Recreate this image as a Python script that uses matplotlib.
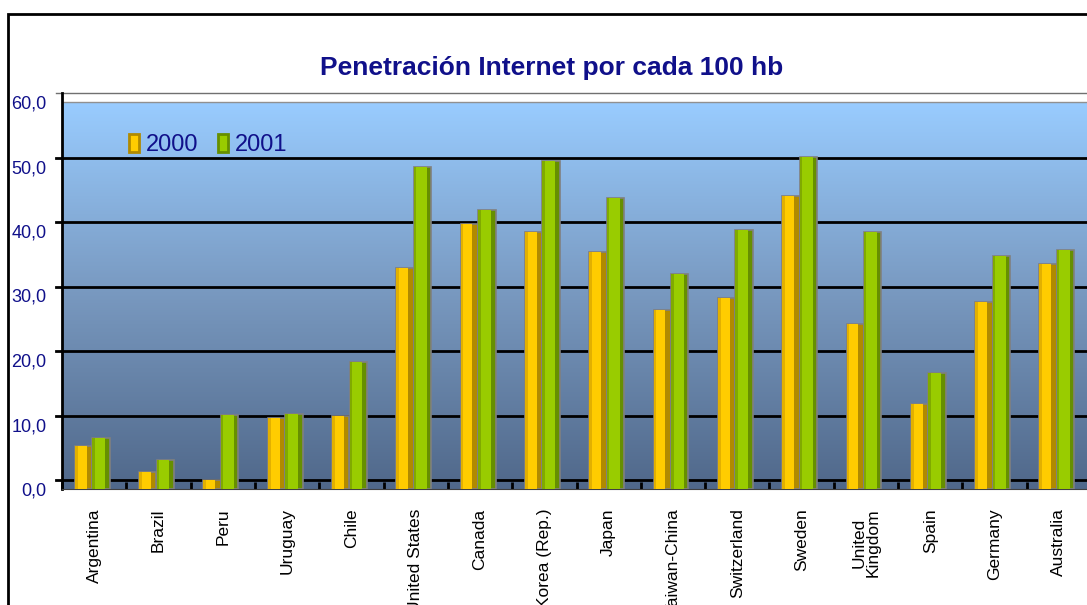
import numpy as np
import matplotlib
matplotlib.use("Agg")
import matplotlib.pyplot as plt
import matplotlib.transforms as mtransforms
from matplotlib.patches import Rectangle
from matplotlib.colors import LinearSegmentedColormap

plt.rcParams['font.family'] = ['Liberation Sans', 'DejaVu Sans']

countries = ['Argentina', 'Brazil', 'Peru', 'Uruguay', 'Chile', 'United States',
             'Canada', 'Korea (Rep.)', 'Japan', 'Taiwan-China', 'Switzerland',
             'Sweden', 'United\nKingdom', 'Spain', 'Germany', 'Australia']
v2000 = [6.7, 2.7, 1.4, 11.0, 11.3, 34.3, 41.1, 39.8, 36.7, 27.8, 29.6, 45.4, 25.6, 13.2, 29.0, 34.9]
v2001 = [7.9, 4.5, 11.4, 11.6, 19.7, 49.9, 43.3, 50.9, 45.1, 33.3, 40.2, 51.5, 39.8, 18.0, 36.1, 37.1]
yticks = [0, 10, 20, 30, 40, 50, 60]
ylabels = ['0,0', '10,0', '20,0', '30,0', '40,0', '50,0', '60,0']

navy = '#10108a'
W, H, DPI = 1087, 605, 100
fig = plt.figure(figsize=(W / DPI, H / DPI), dpi=DPI)

# outer frame (top and left visible)
fig.patches.append(Rectangle((8 / W, -0.1), 1.2, (H - 14) / H + 0.1, transform=fig.transFigure,
                             fill=False, edgecolor='black', linewidth=2))

ax = fig.add_axes([62 / W, (H - 489) / H, 1029 / W, 396 / H])
ymax = (489 - 93) / 6.45
ax.set_xlim(-0.5, len(countries) - 0.5)
ax.set_ylim(0, ymax)

# gradient wall
cmap = LinearSegmentedColormap.from_list('wall', ['#50688a', '#7898bf', '#99ccff'])
grad = np.linspace(0, 1, 256).reshape(-1, 1)
ax.imshow(grad, cmap=cmap, origin='lower', aspect='auto',
          extent=(-0.5, len(countries) - 0.5, 0, 60), zorder=0)
ax.axhline(60, color='#909090', linewidth=1, zorder=1)

# back-wall gridlines, shifted up from the front plane
back = ax.get_yaxis_transform() + mtransforms.ScaledTranslation(0, 9 / DPI, fig.dpi_scale_trans)
for t in yticks:
    top = t == yticks[-1]
    ax.plot([-0.006, 1], [t, t], transform=back, color='#707070' if top else 'black',
            linewidth=1 if top else 2, clip_on=False, zorder=2)

x = np.arange(len(countries))
w = 0.27
x0 = x - 0.166
x1 = x + 0.106

# 2000 bars (gold), shaded in strips
ax.bar(x0, v2000, w, color='#b08a00', edgecolor='#808080', linewidth=1.2, zorder=3)
ax.bar(x0 - w / 2, v2000, w * 0.68, align='edge', color='#ffcc00', linewidth=0, zorder=4)
ax.bar(x0 - w / 2, v2000, w * 0.16, align='edge', color='#e2b000', linewidth=0, zorder=5)
# 2001 bars (green)
ax.bar(x1, v2001, w, color='#668f00', edgecolor='#808080', linewidth=1.2, zorder=3)
ax.bar(x1 - w / 2, v2001, w * 0.74, align='edge', color='#99cc00', linewidth=0, zorder=4)
ax.bar(x1 - w / 2, v2001, w * 0.14, align='edge', color='#80aa00', linewidth=0, zorder=5)

# axes styling
for s in ['top', 'right']:
    ax.spines[s].set_visible(False)
ax.spines['left'].set_linewidth(2)
ax.spines['bottom'].set_color('#404040')
ax.set_yticks(yticks)
ax.set_yticklabels(ylabels, color=navy, fontsize=13)
ax.tick_params(axis='y', length=0, pad=11)
ax.set_xticks(x)
ax.set_xticklabels(countries, rotation=90, fontsize=12.5, color='black', linespacing=0.95)
ax.tick_params(axis='x', which='major', length=0, pad=14)
ax.set_xticks(np.arange(len(countries) + 1) - 0.5, minor=True)
ax.tick_params(axis='x', which='minor', direction='in', length=5, width=2, color='black')

# legend
ax.legend(handles=[Rectangle((0, 0), 1, 1, facecolor='#ffcc00', edgecolor='#b08a00', linewidth=2),
                   Rectangle((0, 0), 1, 1, facecolor='#99cc00', edgecolor='#668f00', linewidth=2)],
          labels=['2000', '2001'], loc='upper left', bbox_to_anchor=(0.044, 0.95), ncol=2,
          frameon=False, fontsize=17, handlelength=0.45, handleheight=0.8,
          handletextpad=0.3, columnspacing=0.8, labelcolor=navy)

fig.text(552 / W, 1 - 68 / H, 'Penetración Internet por cada 100 hb', ha='center', va='center',
         fontsize=19, fontweight='bold', color=navy)

fig.savefig('out.png', dpi=DPI)
